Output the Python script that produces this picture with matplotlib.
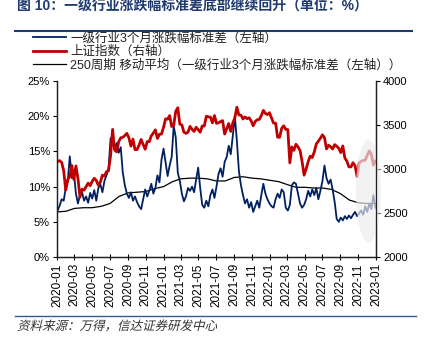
import numpy as np
import pandas as pd
import matplotlib
matplotlib.use('Agg')
import matplotlib.pyplot as plt
import matplotlib.dates as mdates
from matplotlib.lines import Line2D
from matplotlib.patches import Ellipse, PathPatch
from matplotlib.textpath import TextPath
from matplotlib.font_manager import FontProperties
from matplotlib.transforms import Affine2D
from matplotlib.ticker import FuncFormatter, MultipleLocator

plt.rcParams['font.family'] = ['Liberation Sans', 'Noto Sans CJK SC']

# weekly points (fridays), 2020-01-03 .. 2022-12-30
weeks = pd.date_range('2020-01-03', '2022-12-30', freq='W-FRI')

# 一级行业3个月涨跌幅标准差 (%)
std_3m = [
    # 2020
    6.6, 7.3, 8.2, 8.0, 9.8,
    10.8, 14.3, 11.2, 12.0,
    9.0, 7.6, 8.8, 9.2,
    8.0, 8.6, 7.7, 9.1,
    8.3, 9.5, 8.0, 9.8, 10.3,
    9.2, 10.8, 11.6, 12.5,
    16.8, 17.2, 15.5, 16.2, 14.8,
    15.6, 12.0, 10.2, 9.0,
    8.4, 9.2, 8.0, 8.6,
    7.8, 7.2, 6.8, 8.2, 9.6,
    8.6, 9.4, 10.4, 9.0,
    9.8, 11.6, 10.6, 13.8,
    # 2021
    15.4, 13.5, 11.5, 13.0, 14.2,
    18.6, 17.0, 12.0, 10.8,
    9.0, 7.9, 8.6, 9.8,
    9.4, 10.0, 9.2, 11.0, 12.7,
    9.8, 7.4, 7.0, 8.0,
    7.2, 8.8, 9.6, 8.4,
    10.0, 11.8, 12.6, 11.4, 13.5,
    14.2, 15.8, 14.6, 17.2,
    20.0, 16.5, 12.2, 10.2,
    8.8, 7.6, 8.2, 7.0, 7.8,
    6.4, 7.2, 8.0, 7.0,
    8.8, 10.4, 9.0, 8.2, 7.6,
    # 2022
    7.2, 7.0, 8.2, 9.0,
    8.4, 9.6, 9.2, 7.0,
    6.6, 7.4, 10.2, 10.6,
    10.4, 9.0, 7.6, 7.0, 7.4,
    8.2, 9.4, 8.6, 9.6,
    8.8, 9.8, 8.2, 9.4,
    10.8, 13.0, 11.2, 10.4, 11.0,
    9.6, 7.8, 5.4, 5.0,
    5.6, 5.2, 5.8, 5.4, 5.9,
    5.5, 6.0, 6.4, 5.8,
    6.2, 6.6, 6.0, 7.2,
    6.4, 7.6, 6.8, 8.8, 7.0,
]

# 上证指数
sh_index = [
    # 2020
    3085, 3095, 3075, 2980, 2760,
    2880, 2915, 3040, 2880,
    3035, 2890, 2680, 2770,
    2760, 2800, 2840, 2810,
    2860, 2895, 2870, 2815, 2850,
    2930, 2920, 2970, 2980,
    3150, 3450, 3215, 3195, 3310,
    3355, 3360, 3380, 3405,
    3355, 3260, 3340, 3220,
    3220, 3272, 3336, 3278, 3225,
    3312, 3310, 3377, 3408,
    3445, 3347, 3395, 3397,
    # 2021
    3473, 3570, 3566, 3607, 3483,
    3496, 3655, 3696, 3509,
    3502, 3419, 3405, 3418,
    3484, 3451, 3427, 3474, 3447,
    3418, 3490, 3487, 3600,
    3592, 3590, 3525, 3607,
    3519, 3525, 3539, 3550, 3397,
    3458, 3517, 3427, 3522,
    3581, 3703, 3613, 3613,
    3568, 3592, 3572, 3582, 3547,
    3491, 3539, 3560, 3564,
    3607, 3666, 3632, 3618, 3640,
    # 2022
    3580, 3521, 3522, 3361,
    3361, 3462, 3491, 3451,
    3447, 3070, 3251, 3212,
    3282, 3251, 3211, 3087, 2930,
    3001, 3084, 3146, 3130,
    3195, 3285, 3316, 3350,
    3388, 3356, 3228, 3270, 3253,
    3227, 3277, 3258, 3236,
    3186, 3262, 3126, 3088, 3024,
    3024, 3071, 3038, 2915,
    3070, 3087, 3097, 3101,
    3156, 3206, 3167, 3045, 3089,
]

# 250周期移动平均 (monthly)
months = pd.date_range('2020-01-01', '2023-01-01', freq='MS')
ma_250 = [
    6.4, 6.5, 6.9, 7.0, 7.0, 7.2, 7.6, 8.6, 9.1, 9.2, 9.3, 9.7,
    10.0, 10.7, 11.1, 11.2, 11.2, 11.1, 10.8, 10.8, 11.3, 11.4, 11.2, 11.1,
    10.9, 10.7, 10.3, 9.9, 9.9, 9.8, 9.8, 9.6, 9.0, 8.1, 7.7, 7.6,
    7.6,
]

n = min(len(weeks), len(std_3m), len(sh_index))
weeks = weeks[:n]
std_3m = std_3m[:n]
sh_index = sh_index[:n]

navy = '#002060'
red = '#c00000'
title_blue = '#1f3a6e'

fig = plt.figure(figsize=(4.27, 3.43), dpi=100)
ax = fig.add_axes([57/427, 1-257/343, 319/427, 176/343])
ax2 = ax.twinx()

l1, = ax.plot(weeks, std_3m, color=navy, lw=1.3, zorder=3)
l3, = ax.plot(months, ma_250, color='black', lw=0.9, zorder=2)
l2, = ax2.plot(weeks, sh_index, color=red, lw=2.0, zorder=2)

ax.set_ylim(0, 25)
ax.yaxis.set_major_locator(MultipleLocator(5))
ax.yaxis.set_major_formatter(FuncFormatter(lambda v, p: '%d%%' % v))
ax2.set_ylim(2000, 4000)
ax2.yaxis.set_major_locator(MultipleLocator(500))

ax.set_xlim(pd.Timestamp('2020-01-01'), pd.Timestamp('2023-01-01'))
ax.xaxis.set_major_locator(mdates.MonthLocator(bymonth=[1, 3, 5, 7, 9, 11]))
ax.xaxis.set_major_formatter(mdates.DateFormatter('%Y-%m'))

for a in (ax, ax2):
    a.spines['top'].set_visible(False)
    for s in a.spines.values():
        s.set_linewidth(0.9)
        s.set_color('#222222')
ax.tick_params(axis='y', direction='out', length=3, labelsize=8, pad=2)
ax2.tick_params(axis='y', direction='out', length=3, labelsize=8, pad=2)
ax.tick_params(axis='x', direction='inout', length=5, labelsize=8.5, pad=2,
               rotation=90)

# faded area for the latest weeks
ell = Ellipse((pd.Timestamp('2022-12-06'), 2750), width=86, height=1170,
              facecolor='#ececec', edgecolor='none', alpha=0.68,
              zorder=2.2, clip_on=False)
ax2.add_patch(ell)

labels = ['一级行业3个月涨跌幅标准差（左轴）', '上证指数（右轴）',
          '250周期 移动平均（一级行业3个月涨跌幅标准差（左轴））']
leg = fig.legend([l1, l2, l3], labels, loc='upper left',
                 bbox_to_anchor=(32/427, 1-31/343), frameon=False,
                 fontsize=9, handlelength=2.6, handletextpad=0.35,
                 labelspacing=0.08, borderaxespad=0, borderpad=0.1)
for t in leg.get_texts():
    t.set_color('#222222')

fig.text(17/427, 1-9.5/343, '图 10：一级行业涨跌幅标准差底部继续回升（单位：%）',
         fontsize=10, fontweight='bold', color=title_blue, va='baseline')

fig.add_artist(Line2D([15/427, 412/427], [1-31/343]*2, color=title_blue,
                      lw=1.5, transform=fig.transFigure))
fig.add_artist(Line2D([15/427, 416/427], [1-316/343]*2, color='#3c5a88',
                      lw=1.0, transform=fig.transFigure))

# italic source line
src = '资料来源：万得，信达证券研发中心'
tp = TextPath((0, 0), src, size=12.5, prop=FontProperties(family='Noto Sans CJK SC'))
tr = Affine2D().skew_deg(14, 0).translate(17, 343-330).scale(1/100.) + fig.dpi_scale_trans
fig.add_artist(PathPatch(tp, transform=tr, facecolor='#333333', edgecolor='none'))

fig.savefig('out.png', dpi=100)
